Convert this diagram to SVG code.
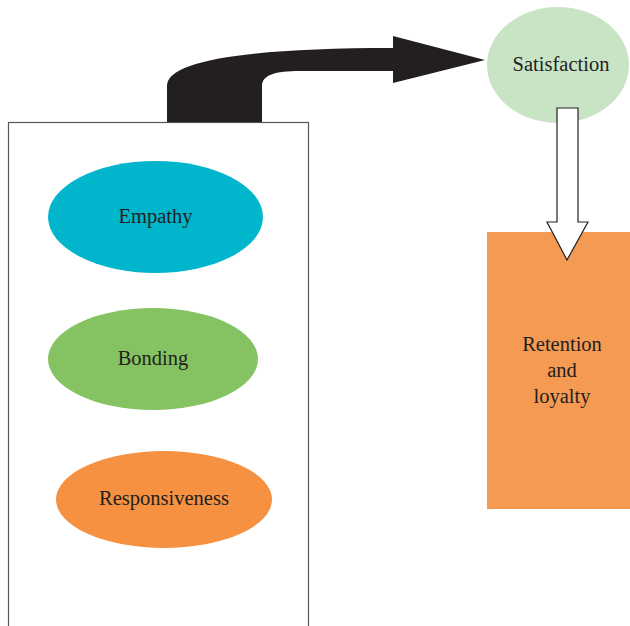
<svg xmlns="http://www.w3.org/2000/svg" width="630" height="626" viewBox="0 0 630 626">
<style>
.lbl{font-family:"Liberation Serif","DejaVu Serif",serif;font-size:20.5px;fill:#231F20;text-anchor:middle;dominant-baseline:central}
</style>
<rect width="630" height="626" fill="#ffffff"/>
<g id="container">
<rect x="8.5" y="122.5" width="300" height="520" fill="#ffffff" stroke="#555555" stroke-width="1.2"/>
</g>
<g id="empathy">
<ellipse cx="155.5" cy="217" rx="107.5" ry="56" fill="#00B5CC"/>
<text class="lbl" x="155.5" y="216">Empathy</text>
</g>
<g id="bonding">
<ellipse cx="153" cy="359" rx="105" ry="51" fill="#85C262"/>
<text class="lbl" x="153" y="358">Bonding</text>
</g>
<g id="responsiveness">
<ellipse cx="164" cy="499.5" rx="108" ry="48.5" fill="#F59140"/>
<text class="lbl" x="164" y="498">Responsiveness</text>
</g>
<g id="satisfaction">
<ellipse cx="558" cy="65" rx="71" ry="58" fill="#C8E4C4"/>
<text class="lbl" x="561" y="64">Satisfaction</text>
</g>
<g id="retention">
<rect x="487" y="232" width="143" height="277" fill="#F59A52"/>
<text class="lbl" x="562" y="344">Retention</text>
<text class="lbl" x="562" y="370">and</text>
<text class="lbl" x="562" y="396">loyalty</text>
</g>
<g id="connectors">
<path d="M167,122 L167,86 C167,60 250,48 393,48 L393,36 L485,60 L393,83 L393,71 L300,71 C275,71 262,75 262,86 L262,122 Z" fill="#231F20"/>
<path d="M557,108 L578,108 L578,222 L588,222 L567,260 L547,222 L557,222 Z" fill="#ffffff" stroke="#231F20" stroke-width="1.2"/>
</g>
</svg>
